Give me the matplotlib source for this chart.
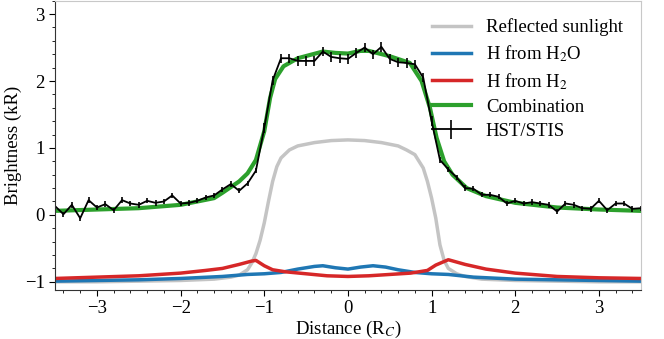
import numpy as np
import matplotlib
matplotlib.use('Agg')
import matplotlib.pyplot as plt
from matplotlib.ticker import MultipleLocator

plt.rcParams['font.family'] = ['Liberation Serif', 'DejaVu Serif']
plt.rcParams['mathtext.fontset'] = 'stix'
plt.rcParams['font.size'] = 13.5

# HST/STIS profile (0.1 R_C steps)
obs_x = np.round(np.arange(-35, 36) * 0.1, 1)
obs_y = [0.13, 0.01, 0.15, -0.05, 0.22, 0.11, 0.16, 0.07, 0.22, 0.17,
         0.15, 0.21, 0.18, 0.20, 0.29, 0.17, 0.18, 0.21, 0.26, 0.29,
         0.38, 0.46, 0.36, 0.47, 0.66, 1.30, 2.01, 2.34, 2.34, 2.30,
         2.30, 2.30, 2.44, 2.36, 2.34, 2.33, 2.42, 2.50, 2.40, 2.51,
         2.33, 2.28, 2.27, 2.25, 2.05, 1.40, 0.82, 0.68, 0.56, 0.40,
         0.39, 0.30, 0.30, 0.27, 0.17, 0.21, 0.17, 0.19, 0.17, 0.15,
         0.05, 0.17, 0.15, 0.10, 0.09, 0.21, 0.07, 0.17, 0.17, 0.09,
         0.10]
obs_err = [0.04] * 25 + [0.07] * 21 + [0.04] * 25

# model components
sun_x = [-3.5, -3.0, -2.5, -2.0, -1.6, -1.4, -1.3, -1.2, -1.15, -1.1, -1.05, -1.0,
         -0.95, -0.9, -0.85, -0.8, -0.7, -0.6, -0.4, -0.2, 0.0, 0.2, 0.4, 0.6,
         0.7, 0.8, 0.9, 0.95, 1.0, 1.05, 1.1, 1.15, 1.2, 1.3, 1.4, 1.6, 2.0,
         2.5, 3.0, 3.5]
sun_y = [-1.0, -1.0, -0.99, -0.98, -0.96, -0.93, -0.9, -0.82, -0.72, -0.58, -0.38, -0.12,
         0.2, 0.5, 0.72, 0.85, 0.97, 1.03, 1.08, 1.11, 1.12, 1.11, 1.08, 1.03,
         0.97, 0.9, 0.7, 0.5, 0.25, -0.05, -0.45, -0.68, -0.8, -0.88, -0.92, -0.96, -0.98,
         -0.99, -1.0, -1.0]

h2o_x = [-3.5, -3.0, -2.5, -2.0, -1.5, -1.2, -1.0, -0.8, -0.6, -0.4, -0.3, -0.15,
         0.0, 0.15, 0.3, 0.45, 0.6, 0.8, 1.0, 1.2, 1.5, 2.0, 2.5, 3.0, 3.5]
h2o_y = [-0.99, -0.98, -0.97, -0.95, -0.92, -0.89, -0.88, -0.86, -0.81, -0.77, -0.76, -0.79,
         -0.81, -0.78, -0.76, -0.78, -0.82, -0.86, -0.88, -0.89, -0.93, -0.96, -0.97, -0.98, -0.99]

h2_x = [-3.5, -3.0, -2.5, -2.0, -1.7, -1.5, -1.3, -1.15, -1.1, -1.0, -0.9, -0.75,
        -0.5, -0.25, 0.0, 0.25, 0.5, 0.75, 0.95, 1.05, 1.2, 1.4, 1.65, 2.0, 2.5,
        3.0, 3.5]
h2_y = [-0.95, -0.93, -0.91, -0.87, -0.83, -0.8, -0.74, -0.69, -0.68, -0.76, -0.82, -0.85,
        -0.88, -0.91, -0.92, -0.91, -0.89, -0.87, -0.83, -0.75, -0.67, -0.74, -0.81, -0.87, -0.92,
        -0.94, -0.95]

comb_x = [-3.5, -3.0, -2.5, -2.0, -1.6, -1.5, -1.3, -1.2, -1.1, -1.0, -0.93, -0.87,
          -0.77, -0.6, -0.45, -0.3, -0.15, 0.0, 0.15, 0.25, 0.5, 0.74, 0.88, 0.98,
          1.06, 1.15, 1.25, 1.42, 1.65, 2.0, 2.5, 3.0, 3.5]
comb_y = [0.06, 0.08, 0.1, 0.15, 0.25, 0.33, 0.5, 0.62, 0.82, 1.25, 1.75, 2.03,
          2.22, 2.34, 2.39, 2.44, 2.42, 2.41, 2.45, 2.45, 2.37, 2.27, 2.0, 1.6,
          1.15, 0.8, 0.6, 0.4, 0.28, 0.18, 0.11, 0.08, 0.06]

fig = plt.figure(figsize=(6.64, 3.39), dpi=100)
ax = fig.add_axes([0.083, 0.145, 0.882, 0.853])

ax.plot(sun_x, sun_y, color='#c4c4c4', lw=2.5, label='Reflected sunlight')
ax.plot(h2o_x, h2o_y, color='#1f77b4', lw=2.5, label='H from H$_2$O')
ax.plot(h2_x, h2_y, color='#d62728', lw=2.5, label='H from H$_2$')
ax.plot(comb_x, comb_y, color='#2ca02c', lw=3, label='Combination')
ax.errorbar(obs_x, obs_y, yerr=obs_err, color='black', lw=1.3, elinewidth=1.2,
            capsize=0, label='HST/STIS')

ax.set_xlim(-3.5, 3.5)
ax.set_ylim(-1.12, 3.2)
ax.xaxis.set_major_locator(MultipleLocator(1))
ax.xaxis.set_minor_locator(MultipleLocator(0.2))
ax.yaxis.set_major_locator(MultipleLocator(1))
ax.yaxis.set_minor_locator(MultipleLocator(0.2))
ax.tick_params(which='major', length=4, width=0.8, direction='out')
ax.tick_params(which='minor', length=2, width=0.6, direction='out')
for s in ['top', 'right']:
    ax.spines[s].set_color('#c8c8c8')
for s in ['left', 'bottom']:
    ax.spines[s].set_color('#333333')

ax.set_xlabel('Distance (R$_C$)', labelpad=1)
ax.set_ylabel('Brightness (kR)', labelpad=2)

ax.legend(loc='upper right', frameon=False, handlelength=2.1, labelspacing=0.37,
          handletextpad=0.8, borderaxespad=0.55, borderpad=0.4)

fig.savefig('out.png', dpi=100)
